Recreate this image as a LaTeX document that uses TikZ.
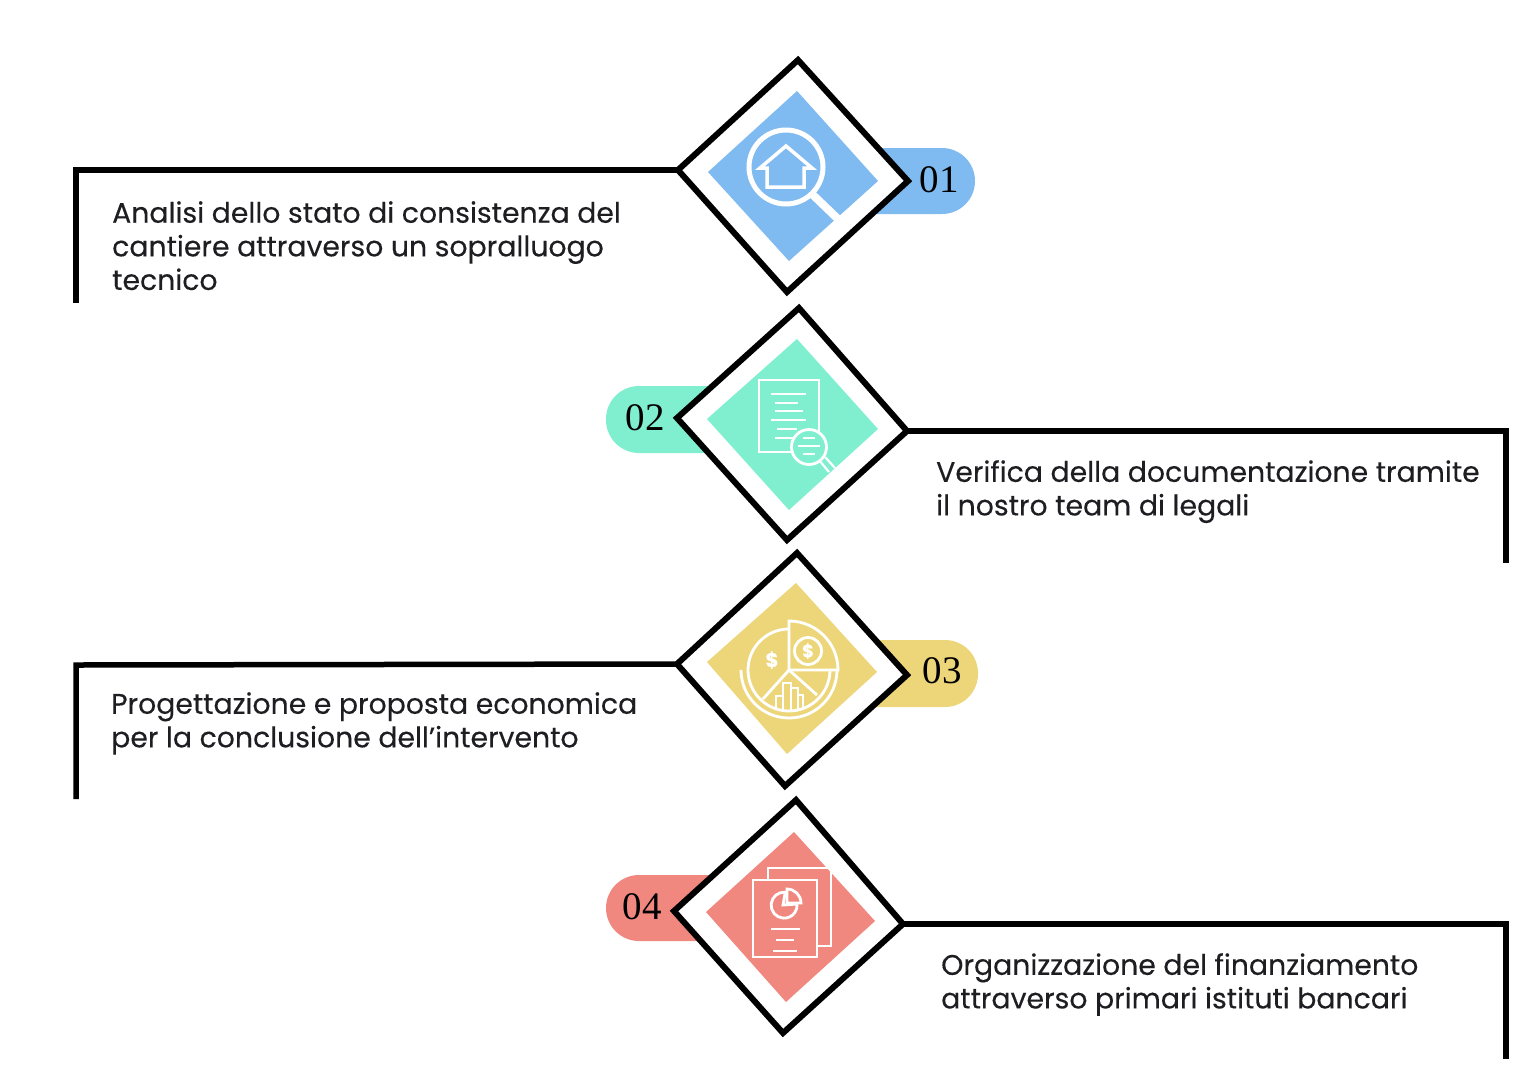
\documentclass[tikz,border=0pt]{standalone}
\usepackage{fontspec}
\setmainfont{Poppins}[FakeBold=0.25]
\newfontfamily\numfont{Liberation Serif}
\definecolor{cblue}{HTML}{7FBBF0}
\definecolor{cteal}{HTML}{80EFD0}
\definecolor{cyell}{HTML}{EDD67A}
\definecolor{cred}{HTML}{F08880}
\definecolor{ink}{HTML}{1E1E22}
\tikzset{
  linkline/.style={draw=black,line width=5.5pt,line cap=butt,line join=miter},
  frame/.style={draw=black,fill=white,line width=6pt,line join=miter},
  icon/.style={draw=white,line width=2.8pt,line join=miter},
  iconthick/.style={draw=white,line width=5pt},
  thin icon/.style={draw=white,line width=2.2pt},
  caption/.style={anchor=north west,align=left,inner sep=0pt,text=ink,font=\fontsize{28.3}{33.6}\selectfont},
  numlabel/.style={inner sep=0pt,text=black,font=\numfont\fontsize{39}{39}\selectfont},
}
\begin{document}
\begin{tikzpicture}[x=1pt,y=-1pt]
\useasboundingbox (0,0) rectangle (1537,1080);

% ---------- corner coordinates
\coordinate (d1t) at (798,60); \coordinate (d1r) at (908,181); \coordinate (d1b) at (787,292); \coordinate (d1l) at (678,170);
\coordinate (d2t) at (799,308); \coordinate (d2r) at (907,431); \coordinate (d2b) at (787,540); \coordinate (d2l) at (677,418);
\coordinate (d3t) at (797,553); \coordinate (d3r) at (907,675); \coordinate (d3b) at (785,786); \coordinate (d3l) at (677,664);
\coordinate (d4t) at (796,800); \coordinate (d4r) at (903,924); \coordinate (d4b) at (783,1033); \coordinate (d4l) at (674,911);

\coordinate (e1) at (76,303); \coordinate (k1) at (76,170);
\coordinate (e2) at (1506,563); \coordinate (k2) at (1506,431);
\coordinate (e3) at (76,799); \coordinate (k3) at (76,665);
\coordinate (e4) at (1506,1059); \coordinate (k4) at (1506,924);

% ---------- connectors
\draw[linkline] (e1) -- (k1) -- (d1l);
\draw[linkline] (e2) -- (k2) -- (d2r);
\draw[linkline] (e3) -- (k3) -- (d3l);
\draw[linkline] (e4) -- (k4) -- (d4r);

% ---------- pills
\fill[cblue,rounded corners=33pt] (840,148) rectangle (975,214);
\fill[cteal,rounded corners=33pt] (606,386) rectangle (740,453);
\fill[cyell,rounded corners=33pt] (840,640) rectangle (978,707);
\fill[cred,rounded corners=33pt] (606,875) rectangle (740,941);

% ---------- diamonds
\draw[frame] (d1t) -- (d1r) -- (d1b) -- (d1l) -- cycle;
\draw[frame] (d2t) -- (d2r) -- (d2b) -- (d2l) -- cycle;
\draw[frame] (d3t) -- (d3r) -- (d3b) -- (d3l) -- cycle;
\draw[frame] (d4t) -- (d4r) -- (d4b) -- (d4l) -- cycle;
\fill[cblue] (797,91) -- (878,181) -- (789,261) -- (708,172) -- cycle;
\fill[cteal] (797,339) -- (878,429) -- (789,510) -- (707,419) -- cycle;
\fill[cyell] (796,583) -- (877,672) -- (787,754) -- (707,662) -- cycle;
\fill[cred] (794,832) -- (875,921) -- (786,1002) -- (706,912) -- cycle;

% ---------- numbers
\node[numlabel] (n1) at (939,180) {01};
\node[numlabel] (n2) at (645,418) {02};
\node[numlabel] (n3) at (942,671) {03};
\node[numlabel] (n4) at (642,907) {04};

% ---------- icon 1: magnifier + house
\draw[iconthick] (786,167) circle (37);
\draw[draw=white,line width=8pt] (813,195) -- (838,219);
\draw[icon,line width=3.5pt] (760,168) -- (786,146) -- (812,168) -- (804,168) -- (804,187) -- (767,187) -- (767,168) -- cycle;

% ---------- icon 2: document + lens
\draw[icon] (759,380) rectangle (819,452);
\foreach \xa/\xb/\yy in {771/806/394,775/798/403,775/803/411,771/806/420,777/797/429,775/793/438}
  \draw[thin icon] (\xa,\yy) -- (\xb,\yy);
\draw[icon,fill=cteal] (809,447) circle (17.5);
\foreach \xa/\xb/\yy in {803/815/438,798/820/446,803/815/454}
  \draw[thin icon] (\xa,\yy) -- (\xb,\yy);
\draw[thin icon] (819,460) -- (829,472);
\draw[thin icon] (825,457) -- (835,468);

% ---------- icon 3: pie (angles are negative because the y axis points down)
\draw[icon] (789,670) ++(0,-41) arc[start angle=-90,end angle=-360,radius=41];
\draw[icon] (789,670) ++(-48,0) arc[start angle=-180,end angle=-360,radius=48];
\draw[icon] (789,670) -- (789,621) arc[start angle=-90,end angle=0,radius=49] -- cycle;
\draw[icon] (789,670) -- (763,699);
\draw[icon] (789,670) -- (817,695);
\draw[icon] (808,651) circle (13.5);
\node[inner sep=0pt,text=white,font=\bfseries\fontsize{18}{18}\selectfont] (dl1) at (808,651) {\$};
\node[inner sep=0pt,text=white,font=\bfseries\fontsize{20}{20}\selectfont] (dl2) at (772,660) {\$};
\draw[thin icon] (776,710) -- (776,696) -- (783,696) -- (783,712);
\draw[thin icon] (783,696) -- (783,683) -- (791,683) -- (791,712);
\draw[thin icon] (791,688) -- (798,688) -- (798,711);
\draw[thin icon] (798,695) -- (803,695) -- (803,709);

% ---------- icon 4: documents
\draw[icon] (768,880) -- (768,868) -- (831,868) -- (831,946) -- (817,946);
\draw[icon] (753,880) rectangle (817,957);
\draw[icon] (783,905) ++(-80:13) arc[start angle=-85,end angle=-365,radius=13] -- (783,905) -- cycle;
\draw[icon] (787,903) -- (787,889) arc[start angle=-90,end angle=0,radius=14] -- cycle;
\foreach \xa/\xb/\yy in {771/800/929,776/794/940,773/797/951}
  \draw[icon] (\xa,\yy) -- (\xb,\yy);

% ---------- captions
\node[caption] (t1) at (112,201) {Analisi dello stato di consistenza del\\cantiere attraverso un sopralluogo\\tecnico};
\node[caption] (t2) at (936,460) {Verifica della documentazione tramite\\il nostro team di legali};
\node[caption] (t3) at (111,692) {Progettazione e proposta economica\\per la conclusione dell’intervento};
\node[caption] (t4) at (941,953) {Organizzazione del finanziamento\\attraverso primari istituti bancari};
\end{tikzpicture}
\end{document}
